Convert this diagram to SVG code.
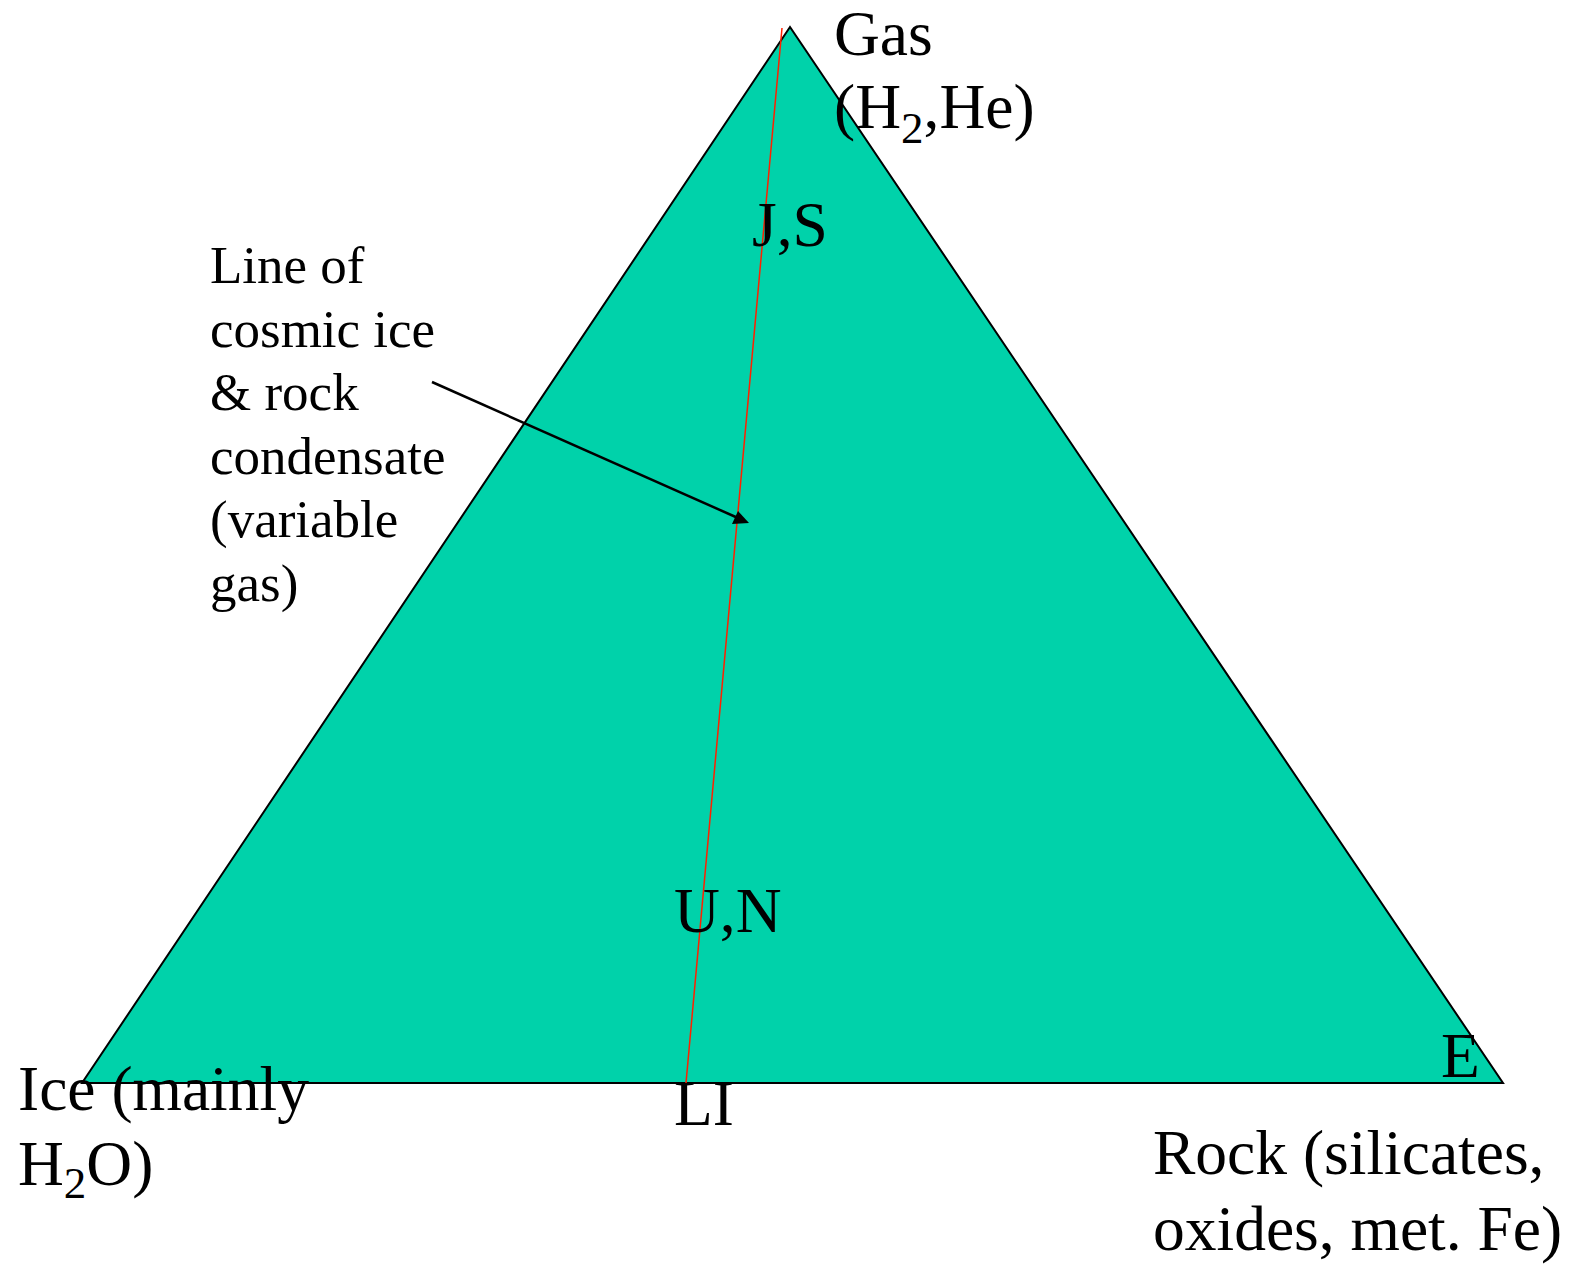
<svg xmlns="http://www.w3.org/2000/svg" width="1575" height="1265" viewBox="0 0 1575 1265">
<style>
text{font-family:"Liberation Serif","Times New Roman",serif;fill:#000}
.big{font-size:63.5px}
.mid{font-size:53px}
.sub{font-size:45px}
</style>
<rect width="1575" height="1265" fill="#fff"/>
<g id="triangle">
<polygon points="790,27 82,1083 1503,1083" fill="#00D2AA" stroke="#000" stroke-width="2"/>
</g>
<g id="connectors">
<line x1="782" y1="28" x2="686" y2="1083" stroke="#FF2000" stroke-width="1.5"/>
<line x1="432" y1="382" x2="738" y2="518" stroke="#000" stroke-width="2.5"/>
<polygon points="749,523 732,524 738,511" fill="#000"/>
</g>
<g id="gas"><text class="big" x="834" y="55">Gas</text>
<text class="big" x="834" y="128">(H<tspan class="sub" dy="15">2</tspan><tspan dy="-15">,He)</tspan></text></g>
<g id="js"><text class="big" x="752" y="246">J,S</text></g>
<g id="un"><text class="big" x="674" y="932">U,N</text></g>
<g id="li"><text class="big" x="674" y="1125">LI</text></g>
<g id="e"><text class="big" x="1441" y="1077">E</text></g>
<g id="ice"><text class="big" x="18" y="1110">Ice (mainly</text>
<text class="big" x="18" y="1185">H<tspan class="sub" dy="13">2</tspan><tspan dy="-13">O)</tspan></text></g>
<g id="rock"><text class="big" x="1153" y="1174">Rock (silicates,</text>
<text class="big" x="1153" y="1250">oxides, met. Fe)</text></g>
<g id="label">
<text class="mid" x="210" y="283">Line of</text>
<text class="mid" x="210" y="347">cosmic ice</text>
<text class="mid" x="210" y="410">&amp; rock</text>
<text class="mid" x="210" y="474">condensate</text>
<text class="mid" x="210" y="537">(variable</text>
<text class="mid" x="210" y="601">gas)</text>
</g>
</svg>
